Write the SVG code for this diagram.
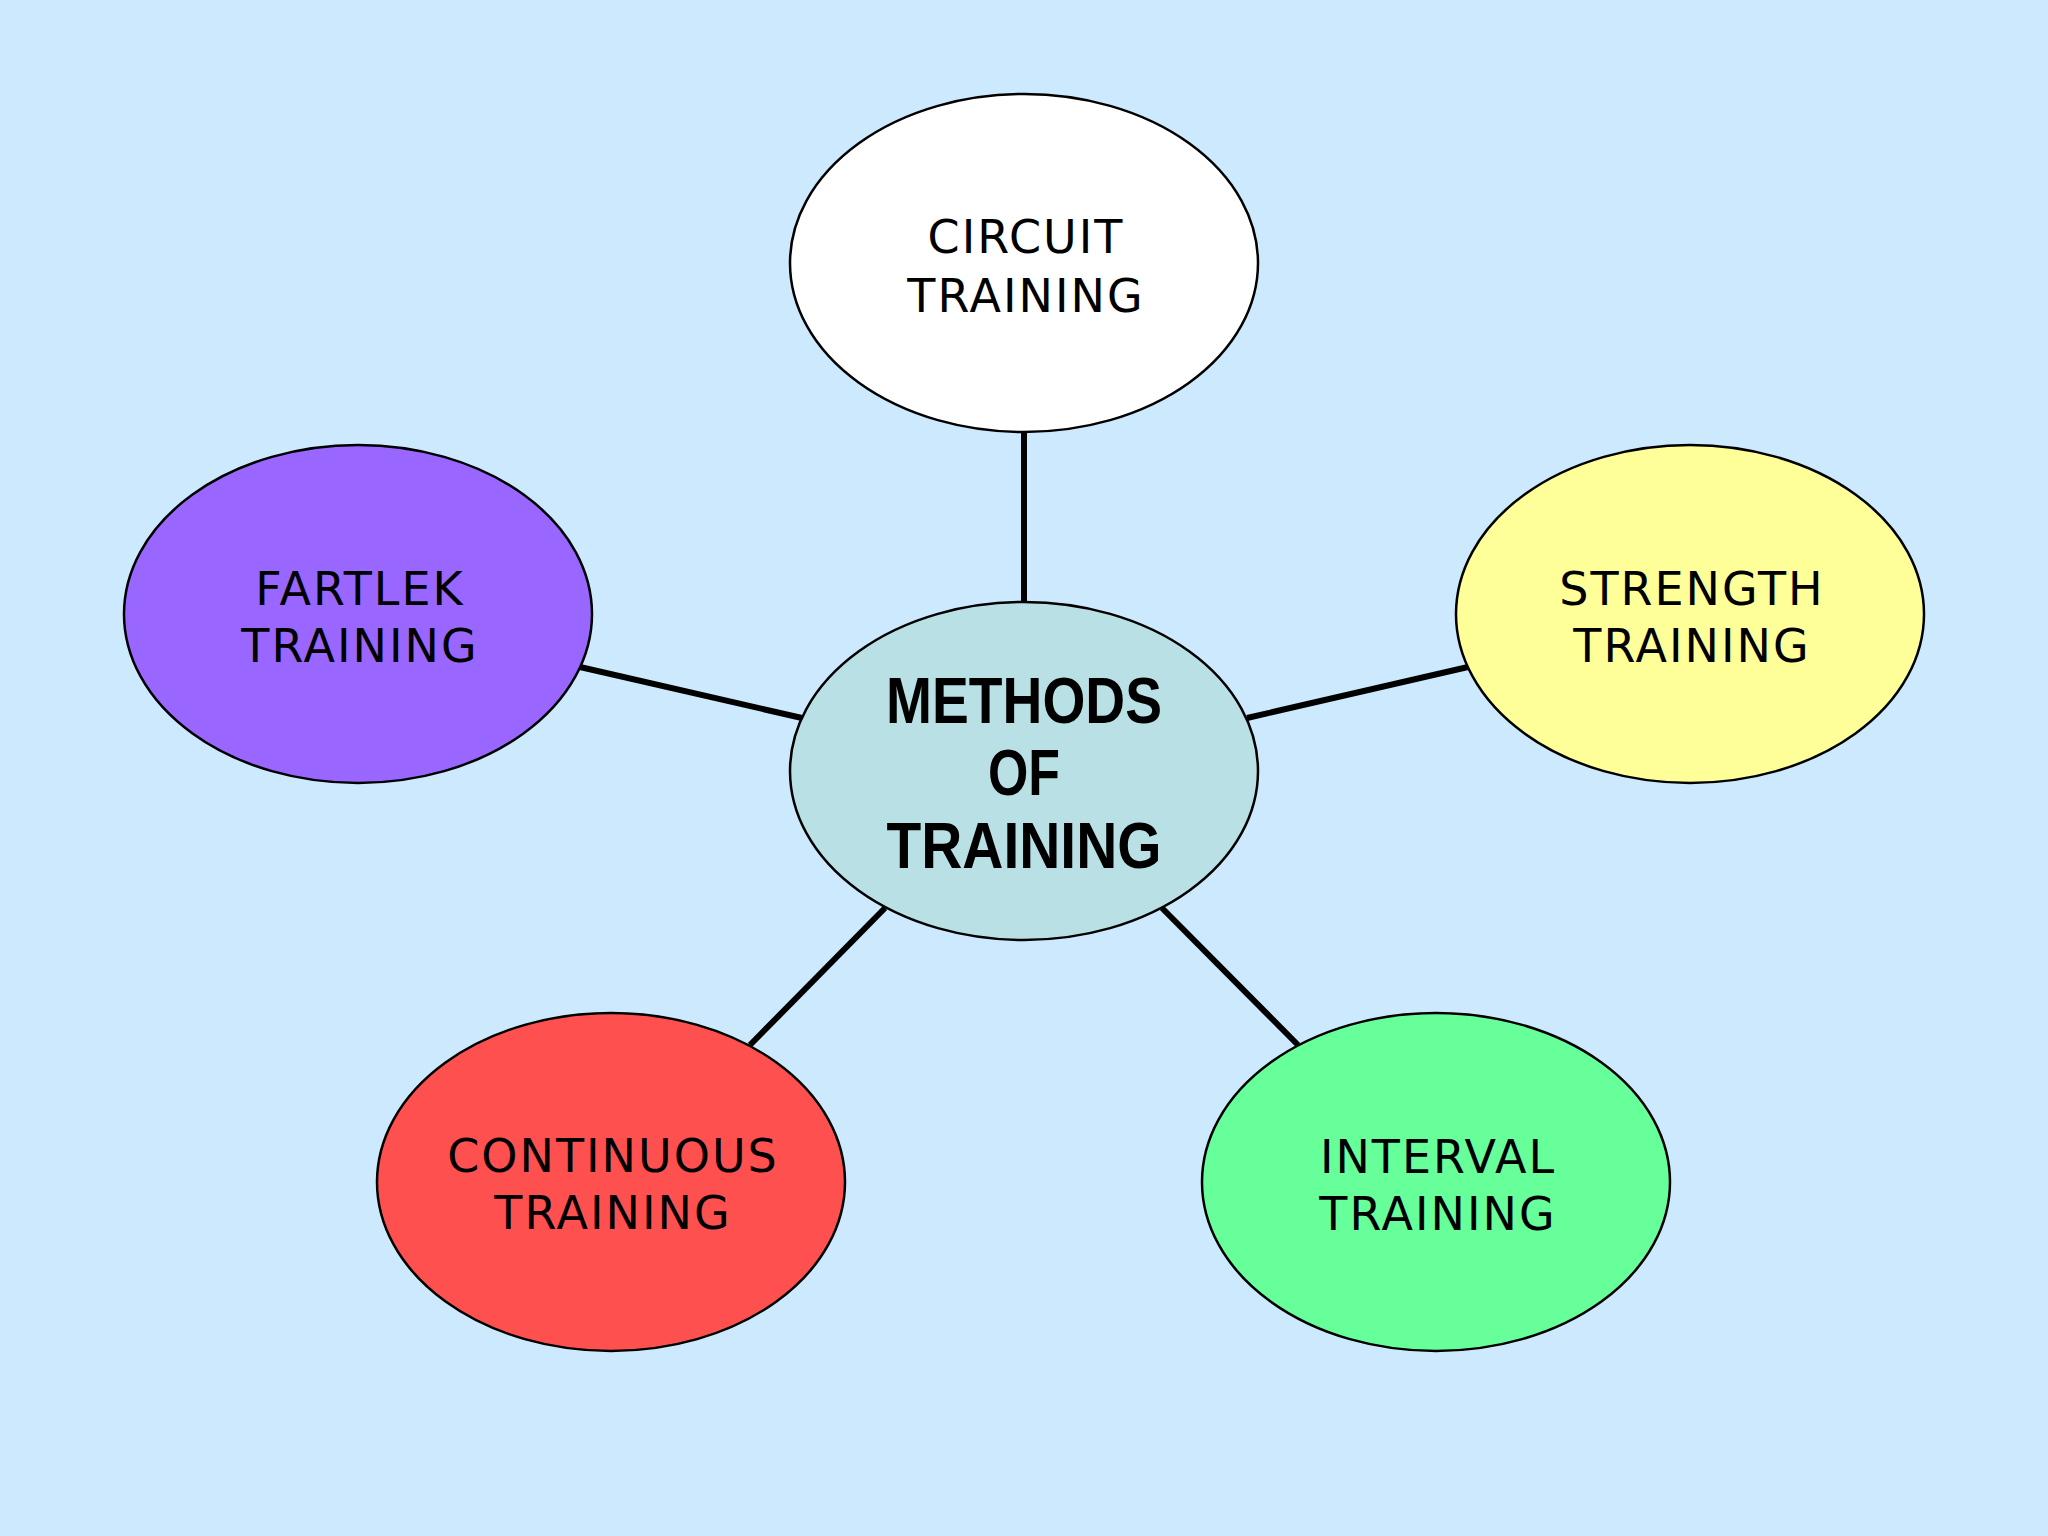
<svg xmlns="http://www.w3.org/2000/svg" width="2048" height="1536" viewBox="0 0 2048 1536">
<style>
.node{stroke:#000;stroke-width:2.5}
.lbl{font-family:"DejaVu Sans","Noto Sans",sans-serif;font-size:46px;fill:#000;text-anchor:middle;letter-spacing:2px}
.title{font-family:"Liberation Sans","DejaVu Sans",sans-serif;font-weight:900;font-size:64px;fill:#000;text-anchor:middle}
.conn{stroke:#000;stroke-width:6;fill:none}
</style>
<rect width="2048" height="1536" fill="#cce9fe"/>
<g id="connectors">
<line class="conn" x1="1024" y1="432" x2="1024" y2="602"/>
<line class="conn" x1="580" y1="667" x2="802" y2="718"/>
<line class="conn" x1="1247" y1="718" x2="1468" y2="667"/>
<line class="conn" x1="885" y1="908" x2="750" y2="1045"/>
<line class="conn" x1="1162" y1="908" x2="1298" y2="1045"/>
</g>
<g id="circuit">
<ellipse class="node" cx="1024" cy="263" rx="234" ry="169" fill="#ffffff"/>
<text class="lbl" x="1026" y="253">CIRCUIT</text>
<text class="lbl" x="1026" y="312">TRAINING</text>
</g>
<g id="methods">
<ellipse class="node" cx="1024" cy="771" rx="234" ry="169" fill="#b9e0e4"/>
<text class="title" x="1024" y="723" textLength="276" lengthAdjust="spacingAndGlyphs">METHODS</text>
<text class="title" x="1024" y="795" textLength="72" lengthAdjust="spacingAndGlyphs">OF</text>
<text class="title" x="1024" y="868" textLength="275" lengthAdjust="spacingAndGlyphs">TRAINING</text>
</g>
<g id="fartlek">
<ellipse class="node" cx="358" cy="614" rx="234" ry="169" fill="#9966ff"/>
<text class="lbl" x="360" y="605">FARTLEK</text>
<text class="lbl" x="360" y="662">TRAINING</text>
</g>
<g id="strength">
<ellipse class="node" cx="1690" cy="614" rx="234" ry="169" fill="#ffff99"/>
<text class="lbl" x="1692" y="605">STRENGTH</text>
<text class="lbl" x="1692" y="662">TRAINING</text>
</g>
<g id="continuous">
<ellipse class="node" cx="611" cy="1182" rx="234" ry="169" fill="#ff5050"/>
<text class="lbl" x="613" y="1172">CONTINUOUS</text>
<text class="lbl" x="613" y="1229">TRAINING</text>
</g>
<g id="interval">
<ellipse class="node" cx="1436" cy="1182" rx="234" ry="169" fill="#66ff99"/>
<text class="lbl" x="1438" y="1173">INTERVAL</text>
<text class="lbl" x="1438" y="1230">TRAINING</text>
</g>
</svg>
